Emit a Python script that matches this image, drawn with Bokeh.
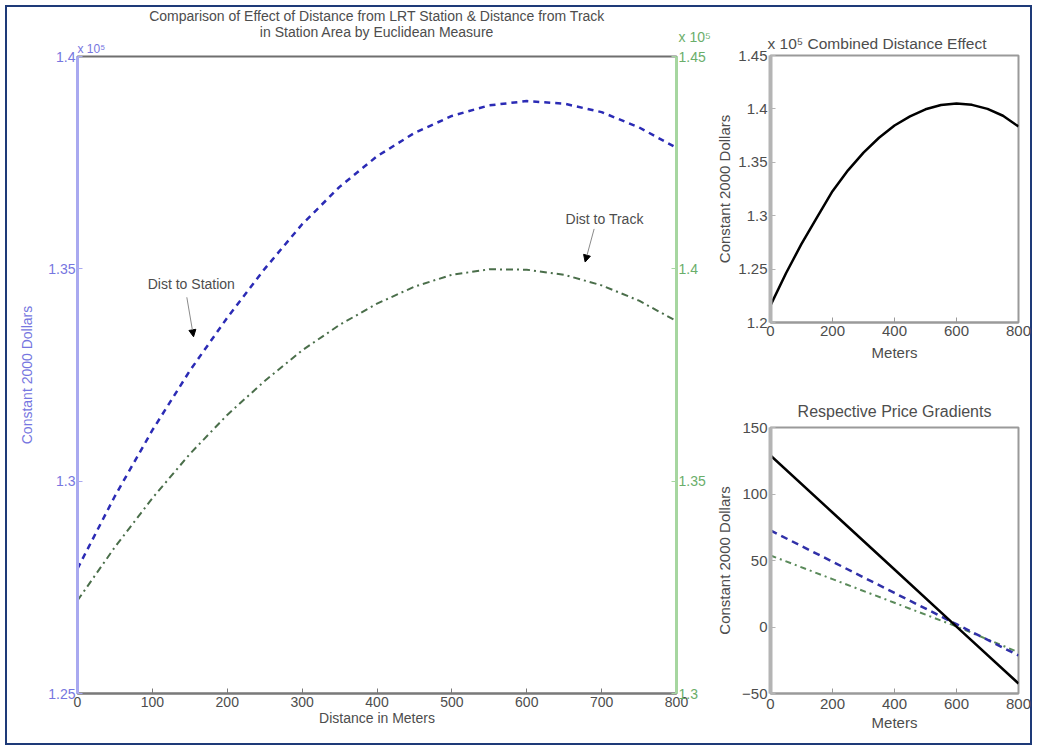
from bokeh.plotting import figure
from bokeh.models import (LinearAxis, Range1d, FixedTicker, CustomJSTickFormatter,
                          Label, Arrow, NormalHead, Title)
from bokeh.layouts import row, column
from bokeh.embed import file_html
from bokeh.resources import INLINE

FONT = "Liberation Sans"
TXT = "#4d4d4d"
BLUE_TXT = "#7676e0"
GREEN_TXT = "#6aae6a"

# ---------------- data ----------------
distance = [0, 50, 100, 150, 200, 250, 300, 350, 400, 450, 500, 550, 600, 650, 700, 750, 800]
station = [127940, 129650, 131200, 132600, 133850, 135000, 136050, 136930, 137650,
           138200, 138600, 138850, 138950, 138890, 138690, 138330, 137850]
track = [132190, 133450, 134600, 135640, 136560, 137360, 138080, 138680, 139180,
         139580, 139860, 139990, 139980, 139860, 139610, 139250, 138770]
combined = [121600, 124610, 127360, 129850, 132300, 134250, 135900, 137300, 138450,
            139300, 139960, 140360, 140500, 140380, 140000, 139360, 138350]

grad_dist = [0, 200, 400, 600, 800]
grad_combined = [129.0, 86.1, 43.2, 0.3, -42.5]
grad_station = [72.6, 49.1, 25.6, 2.1, -21.4]
grad_track = [53.8, 36.0, 18.2, 0.4, -19.0]

main_x_ticks = [0, 100, 200, 300, 400, 500, 600, 700, 800]
left_ticks = [125000, 130000, 135000, 140000]
right_ticks = [130000, 135000, 140000, 145000]
small_x_ticks = [0, 200, 400, 600, 800]
comb_y_ticks = [120000, 125000, 130000, 135000, 140000, 145000]
grad_y_ticks = [-50, 0, 50, 100, 150]

title_line1 = "Comparison of Effect of Distance from LRT Station & Distance from Track"
title_line2 = "in Station Area by Euclidean Measure"
exponent = "x 10\u2075"

fmt = CustomJSTickFormatter(code="return String(Math.round(tick/10)/10000);")


def style_axis(ax, color=TXT, line_color="#8a8a8a", lw=2, size="14px"):
    ax.major_tick_in = 5
    ax.major_tick_out = 0
    ax.minor_tick_line_color = None
    ax.major_tick_line_color = line_color
    ax.major_tick_line_width = 1
    ax.axis_line_color = line_color
    ax.axis_line_width = lw
    ax.major_label_text_font = FONT
    ax.major_label_text_font_size = size
    ax.major_label_text_color = color
    ax.axis_label_text_font = FONT
    ax.axis_label_text_font_size = size
    ax.axis_label_text_font_style = "normal"
    ax.axis_label_text_color = color


def title(text, size, standoff, align="center", color=TXT, offset=0):
    return Title(text=text, align=align, text_align=align, offset=offset, text_font=FONT,
                 text_font_size=size, text_font_style="normal", text_color=color,
                 standoff=standoff)


def txt_label(**kw):
    base = dict(text_font=FONT, text_font_size="14px", text_color=TXT)
    base.update(kw)
    return Label(**base)


# ---------------- main plot ----------------
p = figure(width=713, height=750, x_range=Range1d(0, 800), y_range=Range1d(125000, 140000),
           output_backend="svg", toolbar_location=None, title=None,
           min_border_left=77, min_border_right=37, min_border_top=56, min_border_bottom=57)
p.extra_y_ranges = {"track": Range1d(130000, 145000)}
p.add_layout(LinearAxis(y_range_name="track"), "right")
p.grid.visible = False
p.outline_line_color = "#6f6f6f"
p.outline_line_width = 2
p.background_fill_color = "white"
p.border_fill_color = None

# stacked from the frame outwards
p.add_layout(title(exponent, "12px", 1, align="left", color=BLUE_TXT), "above")
p.add_layout(title(title_line1 + "\n" + title_line2, "14px", 0), "above")

xa = p.xaxis[0]
style_axis(xa, line_color="#7a7a7a")
xa.ticker = FixedTicker(ticks=main_x_ticks)
xa.axis_label = "Distance in Meters"
xa.major_label_standoff = 3
xa.axis_label_standoff = 0

ly = p.yaxis[0]
style_axis(ly, color=BLUE_TXT, line_color="#a9a9f0", lw=3)
ly.ticker = FixedTicker(ticks=left_ticks)
ly.formatter = fmt
ly.major_label_standoff = 2
ly.axis_label = "Constant 2000 Dollars"
ly.axis_label_standoff = 10

ry = p.yaxis[1]
style_axis(ry, color=GREEN_TXT, line_color="#a6d6a0", lw=3)
ry.ticker = FixedTicker(ticks=right_ticks)
ry.formatter = fmt
ry.major_label_standoff = 2
# exponent of the right axis shown above its top tick label
top_right = right_ticks[-1]
ry.major_label_overrides = {top_right: exponent + "\n1.45\n ",
                            str(top_right): exponent + "\n1.45\n "}

p.line(distance, station, line_color="#2b2bb5", line_width=2.5, line_dash="6 5")
p.line(distance, track, y_range_name="track", line_color="#4a6e4a", line_width=2,
       line_dash="7 4 2 4")

p.add_layout(txt_label(x=152, y=134650, text="Dist to Station", text_align="center",
                       text_baseline="middle"))
p.add_layout(Arrow(end=NormalHead(size=7, fill_color="black", line_color="black"),
                   x_start=146, y_start=134330, x_end=155, y_end=133400,
                   line_color="#8a8a8a", line_width=1))
p.add_layout(txt_label(x=704, y=136170, text="Dist to Track", text_align="center",
                       text_baseline="middle"))
p.add_layout(Arrow(end=NormalHead(size=7, fill_color="black", line_color="black"),
                   x_start=690, y_start=135940, x_end=678, y_end=135160,
                   line_color="#8a8a8a", line_width=1))

# ---------------- top right: combined ----------------
tr = figure(width=324, height=390, x_range=Range1d(0, 800), y_range=Range1d(120000, 145000),
            output_backend="svg", toolbar_location=None, title=None,
            min_border_left=52, min_border_right=19, min_border_top=55, min_border_bottom=68)
tr.grid.visible = False
tr.outline_line_color = "#9a9a9a"
tr.outline_line_width = 2
tr.border_fill_color = None
tr.add_layout(title(exponent + " Combined Distance Effect", "15.5px", 7, align="left",
                    offset=-3), "above")
style_axis(tr.xaxis[0], line_color="#9a9a9a", size="15px")
tr.xaxis[0].ticker = FixedTicker(ticks=small_x_ticks)
tr.xaxis[0].axis_label = "Meters"
tr.xaxis[0].major_label_standoff = 3
tr.xaxis[0].axis_label_standoff = 5
style_axis(tr.yaxis[0], line_color="#b4b4b4", lw=4, size="15px")
tr.yaxis[0].ticker = FixedTicker(ticks=comb_y_ticks)
tr.yaxis[0].formatter = fmt
tr.yaxis[0].major_label_standoff = 3
tr.yaxis[0].axis_label = "Constant 2000 Dollars"
tr.yaxis[0].axis_label_standoff = 2
tr.line(distance, combined, line_color="black", line_width=2.5)

# ---------------- bottom right: gradients ----------------
br = figure(width=324, height=360, x_range=Range1d(0, 800), y_range=Range1d(-50, 150),
            output_backend="svg", toolbar_location=None, title=None,
            min_border_left=52, min_border_right=19, min_border_top=37, min_border_bottom=57)
br.grid.visible = False
br.outline_line_color = "#9a9a9a"
br.outline_line_width = 2
br.border_fill_color = None
br.add_layout(title("Respective Price Gradients", "16px", 15), "above")
style_axis(br.xaxis[0], line_color="#9a9a9a", size="15px")
br.xaxis[0].ticker = FixedTicker(ticks=small_x_ticks)
br.xaxis[0].axis_label = "Meters"
br.xaxis[0].major_label_standoff = 5
br.xaxis[0].axis_label_standoff = 2
style_axis(br.yaxis[0], line_color="#b4b4b4", lw=4, size="15px")
br.yaxis[0].ticker = FixedTicker(ticks=grad_y_ticks)
br.yaxis[0].major_label_standoff = 3
br.yaxis[0].axis_label = "Constant 2000 Dollars"
br.yaxis[0].axis_label_standoff = 6
br.line(grad_dist, grad_track, line_color="#5a8a5a", line_width=2, line_dash="6 4 2 4")
br.line(grad_dist, grad_station, line_color="#3030a8", line_width=2.5, line_dash="7 5")
br.line(grad_dist, grad_combined, line_color="black", line_width=2.5)

layout = row(p, column(tr, br),
             styles={"box-shadow": "inset 0 0 0 5px white, inset 0 0 0 7px #1e3a78",
                     "background-color": "white"})

with open("out.html", "w") as f:
    f.write(file_html(layout, INLINE))
